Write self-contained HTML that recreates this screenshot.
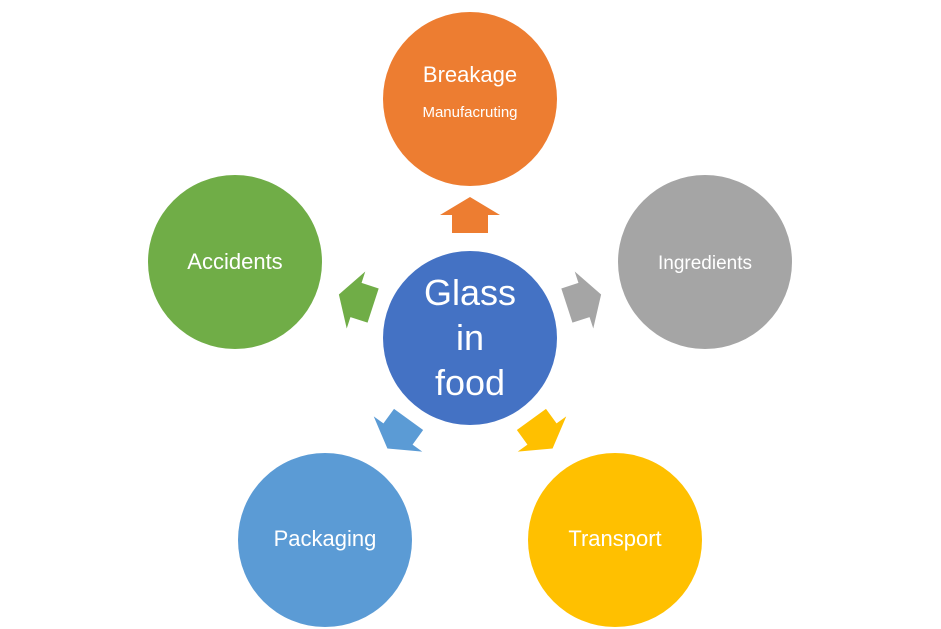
<!DOCTYPE html>
<html><head><meta charset="utf-8"><style>html,body{margin:0;padding:0;background:#fff}svg{display:block}</style></head>
<body>
<svg width="941" height="629" viewBox="0 0 941 629" xmlns="http://www.w3.org/2000/svg" font-family="Liberation Sans, sans-serif">
<defs><path id="ar" d="M0,-18 L30,0 L18,0 L18,18 L-18,18 L-18,0 L-30,0 Z"/></defs>
<circle cx="470" cy="99" r="87" fill="#ED7D31"/>
<circle cx="705" cy="262" r="87" fill="#A5A5A5"/>
<circle cx="235" cy="262" r="87" fill="#70AD47"/>
<circle cx="325" cy="540" r="87" fill="#5B9BD5"/>
<circle cx="615" cy="540" r="87" fill="#FFC000"/>
<circle cx="470" cy="338" r="87" fill="#4472C4"/>
<use href="#ar" transform="translate(470,215)" fill="#ED7D31"/>
<use href="#ar" transform="translate(584,300) rotate(72)" fill="#A5A5A5"/>
<use href="#ar" transform="translate(356,300) rotate(-72)" fill="#70AD47"/>
<use href="#ar" transform="translate(398,434) rotate(-144)" fill="#5B9BD5"/>
<use href="#ar" transform="translate(542,434) rotate(144)" fill="#FFC000"/>
<g fill="#fff" text-anchor="middle">
<text x="470" y="82" font-size="22">Breakage</text>
<text x="470" y="117" font-size="15">Manufacruting</text>
<text x="705" y="269" font-size="19">Ingredients</text>
<text x="235" y="269" font-size="22">Accidents</text>
<text x="325" y="546" font-size="22">Packaging</text>
<text x="615" y="546" font-size="22">Transport</text>
<text x="470" y="305" font-size="36">Glass</text>
<text x="470" y="350" font-size="36">in</text>
<text x="470" y="395" font-size="36">food</text>
</g>
</svg>
</body></html>
